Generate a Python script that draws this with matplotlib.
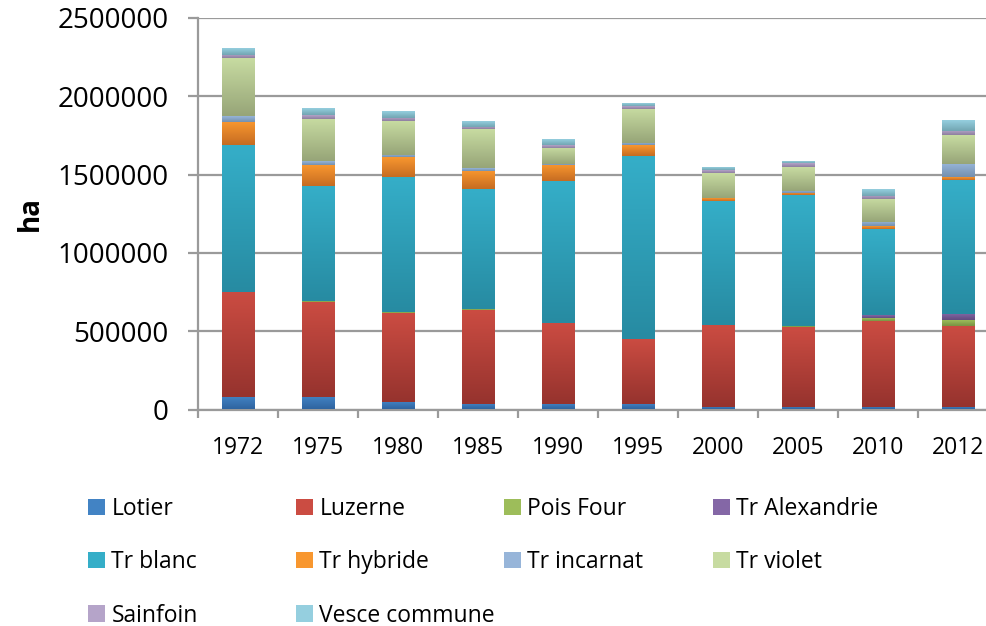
import matplotlib
matplotlib.use("Agg")
import matplotlib.pyplot as plt
import numpy as np
from matplotlib.colors import LinearSegmentedColormap
from matplotlib.patches import Patch
from matplotlib.ticker import FuncFormatter

plt.rcParams["font.family"] = ["Open Sans", "DejaVu Sans"]

# Surfaces (ha) per year.
years = ["1972", "1975", "1980", "1985", "1990", "1995", "2000", "2005", "2010", "2012"]
lotier = [80000, 80000, 51000, 32000, 32000, 32000, 19000, 19000, 15000, 15000]
luzerne = [672000, 609000, 566000, 603000, 523000, 421000, 519000, 506000, 548000, 521000]
pois_four = [0, 5000, 5000, 5000, 0, 0, 0, 11000, 19000, 36000]
tr_alexandrie = [0, 0, 0, 0, 0, 0, 0, 0, 19000, 40000]
tr_blanc = [936000, 735000, 865000, 765000, 901000, 1167000, 795000, 834000, 550000, 853000]
tr_hybride = [149000, 132000, 125000, 121000, 104000, 66000, 17000, 15000, 19000, 19000]
tr_incarnat = [36000, 25000, 13000, 13000, 9000, 13000, 3000, 13000, 26000, 85000]
tr_violet = [370000, 270000, 217000, 249000, 104000, 221000, 157000, 153000, 147000, 183000]
sainfoin = [21000, 25000, 21000, 17000, 15000, 19000, 17000, 21000, 21000, 26000]
vesce = [43000, 43000, 43000, 34000, 34000, 19000, 19000, 11000, 43000, 70000]

series_names = ["Lotier", "Luzerne", "Pois Four", "Tr Alexandrie", "Tr blanc",
                "Tr hybride", "Tr incarnat", "Tr violet", "Sainfoin", "Vesce commune"]
series = [lotier, luzerne, pois_four, tr_alexandrie, tr_blanc,
          tr_hybride, tr_incarnat, tr_violet, sainfoin, vesce]
# (top colour, bottom colour) of the gradient fill
colors = [("#4283C4", "#2F64A0"), ("#CB4C42", "#96332E"), ("#9DBD5A", "#789243"),
          ("#8467A6", "#614B7E"), ("#35AEC8", "#278BA2"), ("#F8972F", "#C66C22"),
          ("#97B5D9", "#7490AE"), ("#C7DBA1", "#97A578"), ("#B5A4C9", "#8C7E9E"),
          ("#95CFDF", "#72A5B2")]

fig = plt.figure(figsize=(9.86, 6.26), dpi=100)
ax = fig.add_axes([198 / 986, (626 - 409.5) / 626, 800 / 986, 391.5 / 626])

x = np.arange(len(years))
bottom = np.zeros(len(years))
for name, vals, (light, dark) in zip(series_names, series, colors):
    bars = ax.bar(x, vals, 0.41, bottom=bottom, color="none", edgecolor="none",
                  label=name, zorder=3)
    cmap = LinearSegmentedColormap.from_list(name, [dark, light])
    grad = np.linspace(0, 1, 64).reshape(-1, 1)
    for r in bars.patches:
        x0, y0 = r.get_xy()
        w, h = r.get_width(), r.get_height()
        if h <= 0:
            continue
        ax.imshow(grad, extent=[x0, x0 + w, y0, y0 + h], origin="lower",
                  aspect="auto", cmap=cmap, interpolation="bicubic", zorder=3)
    bottom += np.array(vals)

ax.set_xlim(-0.5, len(years) - 0.5)
ax.set_ylim(0, 2500000)
ax.set_yticks(np.arange(0, 2500001, 500000))
ax.yaxis.set_major_formatter(FuncFormatter(lambda v, p: "%d" % v))
ax.yaxis.grid(True, color="#9A9A9A", linewidth=1.6)
ax.set_axisbelow(True)

for s in ["top", "right"]:
    ax.spines[s].set_visible(False)
for s in ["left", "bottom"]:
    ax.spines[s].set_color("#9A9A9A")
    ax.spines[s].set_linewidth(1.6)

ax.set_xticks(x)
ax.set_xticklabels(years)
ax.set_xticks(np.arange(-0.5, len(years)), minor=True)
ax.tick_params(axis="x", which="major", length=0, pad=19, labelsize=16.5)
ax.tick_params(axis="x", which="minor", length=6, width=1.6, color="#9A9A9A")
ax.tick_params(axis="y", length=7, width=1.6, color="#9A9A9A", pad=14, labelsize=20)
ax.set_ylabel("ha", fontsize=20, fontweight="bold", labelpad=9)

handles = [Patch(facecolor=light, edgecolor="none") for light, dark in colors]
col_x = [88, 296, 504, 713]
for c in range(4):
    idx = list(range(c, len(series_names), 4))
    fig.legend([handles[i] for i in idx], [series_names[i] for i in idx],
               loc="upper left", bbox_to_anchor=(col_x[c] / 986, 1 - 497 / 626),
               frameon=False, fontsize=16.5, handlelength=0.72, handleheight=0.72,
               handletextpad=0.3, labelspacing=1.28, borderpad=0, borderaxespad=0)

fig.savefig("out.png", dpi=100)
